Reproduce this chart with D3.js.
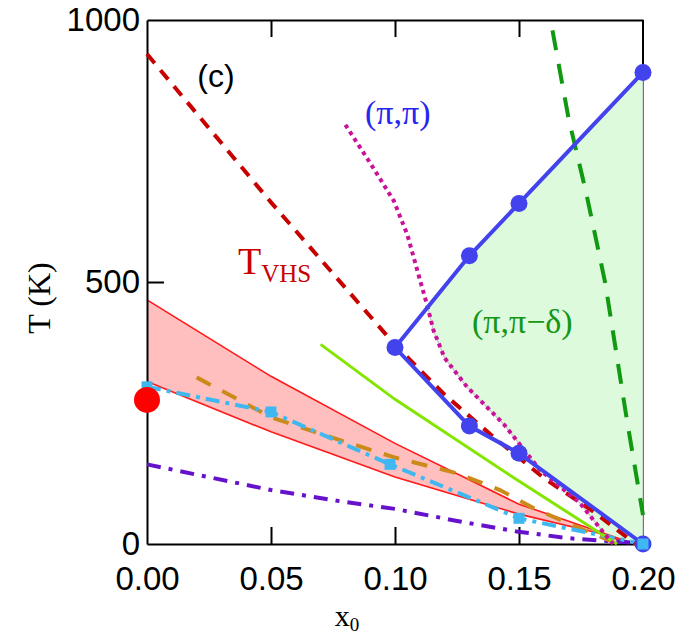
<!DOCTYPE html>
<html>
<head>
<meta charset="utf-8">
<script src="https://cdn.jsdelivr.net/npm/d3@7"></script>
<style>
  body { margin: 0; background: #fff; }
  svg { display: block; }
</style>
</head>
<body>
<svg id="chart" width="675" height="640"></svg>
<script>
// tick values
const xTicks = [0, 0.05, 0.10, 0.15, 0.20];
const yTicks = [0, 500, 1000];

// T_VHS (red dashed)
const tvhs = [[0, 935], [0.05, 652], [0.10, 380], [0.12, 285], [0.14, 203], [0.16, 126], [0.18, 62], [0.197, 0]];
// magenta dotted
const dotted = [[0.08, 800], [0.09, 727], [0.0995, 655], [0.105, 590], [0.110, 505], [0.113, 455],
  [0.1155, 408], [0.12, 355], [0.129, 300], [0.144, 228], [0.1585, 141], [0.1746, 78], [0.1854, 14], [0.188, 0]];
// green dashed
const greenDash = [[0.1635, 980], [0.170, 812], [0.177, 672], [0.1847, 500], [0.1934, 240], [0.2, 55]];
// (pi,pi) points, upper and lower branch
const piUpper = [[0.10, 375], [0.13, 550], [0.15, 650], [0.20, 900]];
const piLower = [[0.10, 375], [0.13, 225], [0.15, 173], [0.20, 0]];
// lime solid
const lime = [[0.07, 381], [0.10, 276], [0.149, 123], [0.1895, 0]];
// red band
const bandTop = [[0, 466], [0.05, 320], [0.10, 192], [0.15, 76], [0.195, 3]];
const bandBottom = [[0, 310], [0.05, 214], [0.10, 128], [0.15, 57], [0.1827, 20], [0.195, 0]];
// cyan dash-dot with squares
const cyan = [[0, 300], [0.05, 252], [0.098, 152], [0.15, 49], [0.20, 0]];
// orange dashed
const orange = [[0.02, 318], [0.05, 242], [0.07, 210], [0.10, 165], [0.125, 135], [0.1423, 103],
  [0.156, 68], [0.173, 33], [0.19, 0]];
// purple dash-dot
const purple = [[0, 152], [0.05, 103], [0.08, 80], [0.10, 67], [0.125, 44], [0.149, 24], [0.17, 11], [0.197, 2]];
// red dot at x=0
const redDot = [[0, 275]];

const svg = d3.select("#chart");
const x = d3.scaleLinear().domain([0, 0.2]).range([147, 643]);
const y = d3.scaleLinear().domain([0, 1000]).range([544, 20]);
const line = d3.line().x(d => x(d[0])).y(d => y(d[1]));

const sans = "Liberation Sans, Arial, sans-serif";
const serif = "Liberation Serif, Times New Roman, serif";

// right spine (gets covered by the fill)
svg.append("line")
  .attr("x1", x(0.2)).attr("x2", x(0.2))
  .attr("y1", y(1000)).attr("y2", y(0))
  .attr("stroke", "#000").attr("stroke-width", 2);

// green (pi,pi-delta) region: dotted line on the left, blue line on top
const fillPts = dotted.filter(d => d[0] >= 0.113).reverse()
  .concat(piUpper.filter(d => d[0] > 0.113))
  .concat([[0.2, 0]]);
svg.append("path")
  .attr("d", line(fillPts) + "Z")
  .attr("fill", "#ddfadd")
  .attr("stroke", "#c4c4c4")
  .attr("stroke-width", 1.2);

// red band
const band = bandTop.concat(bandBottom.slice().reverse());
svg.append("path")
  .attr("d", line(band) + "Z")
  .attr("fill", "#ffbfbf");
[bandTop, bandBottom].forEach(b => {
  svg.append("path").attr("d", line(b))
    .attr("fill", "none").attr("stroke", "#ff1a1a").attr("stroke-width", 1.6);
});

// axes
const gx = svg.append("g").attr("transform", `translate(0,${y(0)})`)
  .call(d3.axisBottom(x).tickValues(xTicks).tickSizeInner(-17).tickSizeOuter(0)
    .tickPadding(22).tickFormat(d3.format(".2f")));
const gxt = svg.append("g").attr("transform", `translate(0,${y(1000)})`)
  .call(d3.axisTop(x).tickValues(xTicks).tickSizeInner(-17).tickSizeOuter(0).tickFormat(""));
const gy = svg.append("g").attr("transform", `translate(${x(0)},0)`)
  .call(d3.axisLeft(y).tickValues(yTicks).tickSizeInner(-17).tickSizeOuter(0).tickPadding(7)
    .tickFormat(d3.format("d")));

[gx, gxt, gy].forEach(g => {
  g.select(".domain").attr("stroke", "#000").attr("stroke-width", 2);
  g.selectAll(".tick line").attr("stroke", "#000").attr("stroke-width", 2)
    .filter(d => d === 0 || d === 0.2 || d === 1000).remove();
  g.selectAll("text").attr("font-family", sans).attr("font-size", 33).attr("fill", "#000");
});
gx.selectAll("text").attr("dy", "0.72em");

// lines
function drawLine(data, color, width, dash) {
  svg.append("path").attr("d", line(data))
    .attr("fill", "none").attr("stroke", color).attr("stroke-width", width)
    .attr("stroke-dasharray", dash || null);
}
drawLine(purple, "#6611cc", 4, "14,8,4,8");
drawLine(orange, "#cc8a1a", 4, "16,13");
drawLine(cyan, "#3fb8f2", 4, "14,6,4,6");
drawLine(lime, "#84e600", 3);
drawLine(tvhs, "#c80000", 4, "12,9");
drawLine(dotted, "#cc1199", 4, "4,4");
drawLine(greenDash, "#119911", 4, "20,14");
drawLine(piUpper, "#4343ee", 4);
drawLine(piLower, "#4343ee", 4);

// blue circles
svg.selectAll(".pi").data(piUpper.concat(piLower.slice(1))).join("circle")
  .attr("cx", d => x(d[0])).attr("cy", d => y(d[1])).attr("r", 8.5)
  .attr("fill", "#4343ee");

// cyan squares
svg.selectAll(".sq").data(cyan).join("rect")
  .attr("x", d => x(d[0]) - 5.5).attr("y", d => y(d[1]) - 5.5)
  .attr("width", 11).attr("height", 11).attr("fill", "#3fb8f2");

// red dot
svg.selectAll(".rd").data(redDot).join("circle")
  .attr("cx", d => x(d[0])).attr("cy", d => y(d[1])).attr("r", 13)
  .attr("fill", "#ff0000");

// labels
svg.append("text").attr("x", 216).attr("y", 87).attr("text-anchor", "middle")
  .attr("font-family", sans).attr("font-size", 32).text("(c)");

svg.append("text").attr("x", 365).attr("y", 124)
  .attr("font-family", serif).attr("font-size", 34).attr("fill", "#2626ee").text("(π,π)");

svg.append("text").attr("x", 472).attr("y", 333)
  .attr("font-family", serif).attr("font-size", 34).attr("fill", "#169616").text("(π,π−δ)");

const tv = svg.append("text").attr("x", 238).attr("y", 274)
  .attr("font-family", serif).attr("fill", "#c80000");
tv.append("tspan").attr("font-size", 38).text("T");
tv.append("tspan").attr("font-size", 25).attr("dy", 8).text("VHS");

svg.append("text").attr("transform", "translate(50,298) rotate(-90)")
  .attr("text-anchor", "middle").attr("font-family", serif).attr("font-size", 32)
  .text("T (K)");

const xl = svg.append("text").attr("x", 347).attr("y", 626).attr("text-anchor", "middle")
  .attr("font-family", serif);
xl.append("tspan").attr("font-size", 30).text("x");
xl.append("tspan").attr("font-size", 19).attr("dy", 5).text("0");
</script>
</body>
</html>
